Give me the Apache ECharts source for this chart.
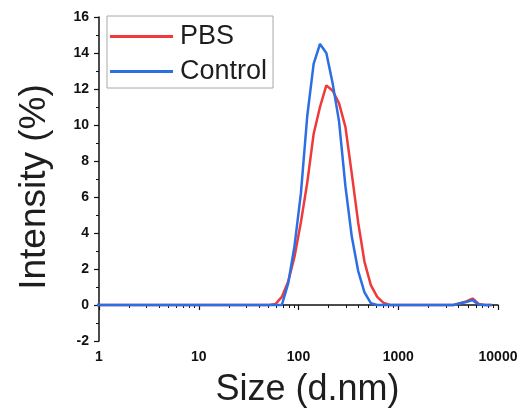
<!DOCTYPE html>
<html>
<head>
<meta charset="utf-8">
<script src="https://cdn.jsdelivr.net/npm/echarts@6/dist/echarts.min.js"></script>
<style>
html,body{margin:0;padding:0;background:#fff;}
#c{width:523px;height:410px;}
</style>
</head>
<body>
<div id="c"></div>
<script>
// Size bins (d.nm)
const sizes = [0.4, 0.4632, 0.5365, 0.6213, 0.7195, 0.8332, 0.9649, 1.117, 1.294, 1.499,
  1.736, 2.01, 2.328, 2.696, 3.122, 3.615, 4.187, 4.849, 5.615, 6.503,
  7.531, 8.721, 10.1, 11.7, 13.54, 15.69, 18.17, 21.04, 24.36, 28.21,
  32.67, 37.84, 43.82, 50.75, 58.77, 68.06, 78.82, 91.28, 105.7, 122.4,
  141.8, 164.2, 190.1, 220.2, 255, 295.3, 342, 396.1, 458.7, 531.2,
  615.1, 712.4, 825, 955.4, 1106, 1281, 1484, 1718, 1990, 2305,
  2669, 3091, 3580, 4145, 4801, 5560, 6439, 7456, 8635];

const pbs = [0, 0, 0, 0, 0, 0, 0, 0, 0, 0,
  0, 0, 0, 0, 0, 0, 0, 0, 0, 0,
  0, 0, 0, 0, 0, 0, 0, 0, 0, 0,
  0, 0, 0, 0, 0.05, 0.45, 1.3, 2.7, 4.6, 6.8,
  9.5, 11.0, 12.2, 11.9, 11.2, 9.9, 7.3, 4.6, 2.4, 1.1,
  0.45, 0.12, 0, 0, 0, 0, 0, 0, 0, 0,
  0, 0, 0, 0.1, 0.2, 0.36, 0.05, 0, 0];

const control = [0, 0, 0, 0, 0, 0, 0, 0, 0, 0,
  0, 0, 0, 0, 0, 0, 0, 0, 0, 0,
  0, 0, 0, 0, 0, 0, 0, 0, 0, 0,
  0, 0, 0, 0, 0, 0, 1.2, 3.3, 6.2, 10.5,
  13.4, 14.5, 14.0, 12.3, 10.2, 6.6, 3.8, 1.9, 0.7, 0.1,
  0, 0, 0, 0, 0, 0, 0, 0, 0, 0,
  0, 0, 0, 0.08, 0.17, 0.27, 0.02, 0, 0];

const seriesNames = ['PBS', 'Control'];
const xMinorTicks = [2,3,4,5,6,7,8,9,20,30,40,50,60,70,80,90,200,300,400,500,600,700,800,900,2000,3000,4000,5000,6000,7000,8000,9000];

const chart = echarts.init(document.getElementById('c'), null, {renderer: 'canvas'});
const font = '"Liberation Sans", Arial, sans-serif';
const gridBox = {left: 99, right: 25, top: 17, bottom: 69, containLabel: false, outerBoundsMode: 'none'};

chart.setOption({
  animation: false,
  backgroundColor: '#fff',
  grid: [Object.assign({}, gridBox), Object.assign({}, gridBox)],
  legend: {
    orient: 'vertical',
    left: 107, top: 16,
    padding: [7, 6, 3, 3],
    itemGap: 8,
    itemWidth: 63, itemHeight: 3,
    icon: 'rect',
    borderColor: '#a8a8a8', borderWidth: 1,
    textStyle: {fontFamily: font, fontSize: 27, color: '#1e1e1e', padding: [0, 0, 0, 2]},
    data: seriesNames
  },
  xAxis: [{
    type: 'log', logBase: 10, min: 1, max: 10000, gridIndex: 0,
    name: 'Size (d.nm)', nameLocation: 'middle', nameGap: 31,
    nameTextStyle: {fontFamily: font, fontSize: 36, color: '#1e1e1e', verticalAlign: 'top', padding: [0, 0, 0, 18]},
    axisLine: {show: true, lineStyle: {color: '#111', width: 1.5}},
    axisTick: {show: true, length: 5, inside: false, lineStyle: {color: '#111', width: 1.2}},
    axisLabel: {fontFamily: font, fontSize: 14, fontWeight: 'bold', color: '#111', margin: 9,
      formatter: v => String(Math.round(v))},
    splitLine: {show: false}
  }, {
    type: 'log', logBase: 10, min: 1, max: 10000, gridIndex: 1, position: 'bottom',
    axisLine: {show: false},
    axisTick: {show: true, length: 3, customValues: xMinorTicks, lineStyle: {color: '#111', width: 1}},
    axisLabel: {show: false},
    splitLine: {show: false}
  }],
  yAxis: [{
    type: 'value', min: -2, max: 16, interval: 2, gridIndex: 0,
    name: 'Intensity (%)', nameLocation: 'middle', nameGap: 46,
    nameTextStyle: {fontFamily: font, fontSize: 37, color: '#1e1e1e', padding: [0, 16, 0, 0]},
    axisLine: {show: true, lineStyle: {color: '#111', width: 1.5}},
    axisTick: {show: true, length: 5, lineStyle: {color: '#111', width: 1.2}},
    minorTick: {show: true, splitNumber: 2, length: 3, lineStyle: {color: '#111', width: 1}},
    axisLabel: {fontFamily: font, fontSize: 14, fontWeight: 'bold', color: '#111', margin: 10},
    splitLine: {show: false}
  }, {
    type: 'value', min: -2, max: 16, gridIndex: 1, show: false
  }],
  series: [{
    name: seriesNames[0], type: 'line', xAxisIndex: 0, yAxisIndex: 0,
    data: sizes.map((s, i) => [s, pbs[i]]),
    symbol: 'none', smooth: false, clip: true,
    lineStyle: {color: '#f03a3a', width: 2.5},
    itemStyle: {color: '#f03a3a'}
  }, {
    name: seriesNames[1], type: 'line', xAxisIndex: 0, yAxisIndex: 0,
    data: sizes.map((s, i) => [s, control[i]]),
    symbol: 'none', smooth: false, clip: true,
    lineStyle: {color: '#2b6fe3', width: 2.5},
    itemStyle: {color: '#2b6fe3'}
  }]
});
</script>
</body>
</html>
